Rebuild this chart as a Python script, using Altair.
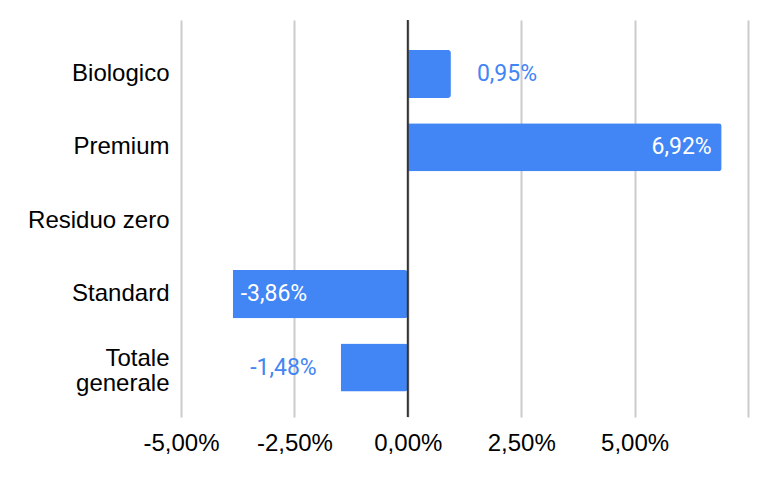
import altair as alt
import pandas as pd

categories = ["Biologico", "Premium", "Residuo zero", "Standard", "Totale generale"]
values = [0.95, 6.92, None, -3.86, -1.48]
labels = ["0,95%", "6,92%", "", "-3,86%", "-1,48%"]
tick_values = [-5, -2.5, 0, 2.5, 5, 7.5]

df = pd.DataFrame({"cat": categories, "val": values, "lab": labels})
df["inside"] = df["val"].abs() > 3

BLUE = "#4285F4"
FONT_AX = "Liberation Sans"
FONT_LAB = "Roboto"
FS_AX = 24
FS = 23

yscale = alt.Scale(domain=categories, paddingInner=0.346, paddingOuter=0.377, align=0.54)

y_enc = alt.Y(
    "cat:N",
    sort=categories,
    title=None,
    scale=yscale,
    axis=alt.Axis(
        domain=False,
        ticks=False,
        labelFont=FONT_AX,
        labelFontSize=FS_AX,
        labelColor="#000000",
        labelPadding=12,
        labelExpr="datum.label == 'Totale generale' ? ['Totale', 'generale'] : datum.label",
        labelLineHeight=25,
        labelOffset={"expr": "datum.value == 'Totale generale' ? -9 : 0"},
    ),
)

x_enc = alt.X(
    "val:Q",
    title=None,
    scale=alt.Scale(domain=[-5, 7.5], nice=False),
    axis=alt.Axis(
        values=tick_values,
        domain=False,
        ticks=False,
        grid=True,
        gridColor="#cccccc",
        gridWidth=2,
        labelFont=FONT_AX,
        labelFontSize=FS_AX,
        labelColor="#000000",
        labelPadding=14,
        labelFlush=False,
        labelExpr="datum.value > 6 ? '' : (datum.value < 0 ? '-' : '') + replace(format(abs(datum.value), '.2f'), '.', ',') + '%'",
    ),
)

base = alt.Chart(df)

bars = base.transform_filter("isValid(datum.val)").mark_bar(
    color=BLUE, cornerRadiusEnd=3
).encode(x=x_enc, y=y_enc)

zero = alt.Chart(pd.DataFrame({"z": [0]})).mark_rule(color="#333333", strokeWidth=2).encode(
    x=alt.X("z:Q", scale=alt.Scale(domain=[-5, 7.5], nice=False))
)

def lab(cond, align, dx, color):
    return base.transform_filter(cond).mark_text(
        align=align, baseline="middle", dx=dx, color=color,
        font=FONT_LAB, fontSize=FS
    ).encode(x=alt.X("val:Q"), y=alt.Y("cat:N", sort=categories, scale=yscale), text="lab:N")

t1 = lab("isValid(datum.val) && !datum.inside && datum.val > 0", "left", 26, BLUE)
t2 = lab("isValid(datum.val) && datum.inside && datum.val > 0", "right", -10, "white")
t3 = lab("isValid(datum.val) && datum.inside && datum.val < 0", "left", 8, "white")
t4 = lab("isValid(datum.val) && !datum.inside && datum.val < 0", "right", -24, BLUE)

chart = alt.layer(bars, zero, t1, t2, t3, t4).properties(
    width=567,
    height=397,
    autosize=alt.AutoSizeParams(type="none"),
    padding={"left": 173, "top": 12, "right": 10, "bottom": 50},
).configure_view(stroke=None)

chart.save("out.html", embed_options={"renderer": "svg", "actions": False})
